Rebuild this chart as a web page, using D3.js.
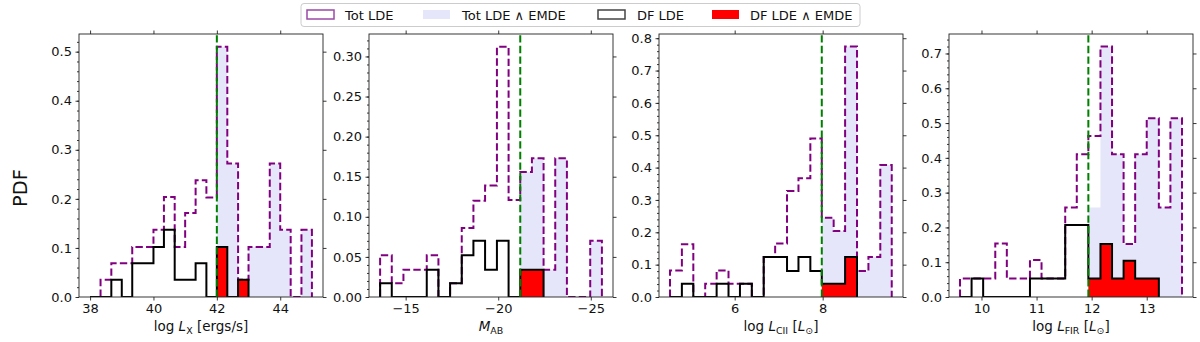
<!DOCTYPE html>
<html>
<head>
<meta charset="utf-8">
<script src="https://cdn.jsdelivr.net/npm/d3@7"></script>
<style>
  body { margin: 0; background: #fff; }
  svg { display: block; font-family: "DejaVu Sans", sans-serif; }
</style>
</head>
<body>
<svg id="chart" width="1200" height="342"></svg>
<script>
// bin edges and PDF heights

// log L_X
const lxEdges = [38.00, 38.33, 38.67, 39.00, 39.33, 39.67, 40.00, 40.33, 40.67, 41.00, 41.33,
  41.67, 42.00, 42.33, 42.67, 43.00, 43.33, 43.67, 44.00, 44.33, 44.67, 45.00];
const lxTot = [0, 0.035, 0.069, 0.069, 0.102, 0.102, 0.137, 0.204, 0.102, 0.171, 0.238,
  0.203, 0.510, 0.272, 0.035, 0.102, 0.102, 0.272, 0.137, 0, 0.137];
const lxTotEmde = [0, 0, 0, 0, 0, 0, 0, 0, 0, 0, 0,
  0, 0.510, 0.272, 0.035, 0.102, 0.102, 0.272, 0.137, 0, 0.137];
const lxDf = [0, 0, 0.035, 0, 0.069, 0.069, 0.102, 0.137, 0.035, 0.035, 0.069, 0, 0.102, 0, 0.035];
const lxDfEmde = [0, 0, 0, 0, 0, 0, 0, 0, 0, 0, 0, 0, 0.102, 0, 0.035];
const lxCut = 42.0;
const lxXTicks = [38, 40, 42, 44];
const lxYTicks = [0, 0.1, 0.2, 0.3, 0.4, 0.5];

// M_AB
const mabEdges = [-13.62, -14.25, -14.88, -15.51, -16.14, -16.77, -17.40, -18.03, -18.66, -19.29,
  -19.93, -20.56, -21.19, -21.82, -22.45, -23.08, -23.71, -24.34, -24.97, -25.60];
const mabTot = [0.052, 0.017, 0.034, 0.034, 0.052, 0, 0.017, 0.086, 0.120, 0.139,
  0.312, 0.121, 0.156, 0.173, 0.034, 0.173, 0, 0, 0.070];
const mabTotEmde = [0, 0, 0, 0, 0, 0, 0, 0, 0, 0,
  0, 0, 0.156, 0.173, 0.034, 0.173, 0, 0, 0.070];
const mabDf = [0.017, 0, 0, 0, 0.034, 0, 0.017, 0.052, 0.070, 0.034, 0.070, 0, 0.034, 0.034];
const mabDfEmde = [0, 0, 0, 0, 0, 0, 0, 0, 0, 0, 0, 0, 0.034, 0.034];
const mabCut = -21.19;
const mabXTicks = [-15, -20, -25];
const mabYTicks = [0, 0.05, 0.10, 0.15, 0.20, 0.25, 0.30];

// log L_CII
const ciiEdges = [4.53, 4.80, 5.06, 5.33, 5.59, 5.86, 6.12, 6.39, 6.66, 6.92,
  7.19, 7.45, 7.72, 7.98, 8.25, 8.51, 8.78, 9.04, 9.31, 9.57];
const ciiTot = [0.082, 0.163, 0, 0.041, 0.082, 0.041, 0.041, 0, 0.124, 0.165,
  0.328, 0.367, 0.490, 0.245, 0.204, 0.774, 0.080, 0.124, 0.408];
const ciiTotEmde = [0, 0, 0, 0, 0, 0, 0, 0, 0, 0,
  0, 0, 0, 0.245, 0.204, 0.774, 0.080, 0.124, 0.408];
const ciiDf = [0, 0.041, 0, 0, 0.041, 0, 0.041, 0, 0.124, 0.124, 0.080, 0.124, 0.080, 0.041, 0.041, 0.124];
const ciiDfEmde = [0, 0, 0, 0, 0, 0, 0, 0, 0, 0, 0, 0, 0, 0.041, 0.041, 0.124];
const ciiCut = 7.98;
const ciiXTicks = [6, 8];
const ciiYTicks = [0, 0.1, 0.2, 0.3, 0.4, 0.5, 0.6, 0.7, 0.8];

// log L_FIR
const firEdges = [9.61, 9.82, 10.03, 10.25, 10.46, 10.67, 10.88, 11.09, 11.31, 11.52,
  11.73, 11.94, 12.16, 12.37, 12.58, 12.79, 13.00, 13.22, 13.43, 13.64];
const firTot = [0.053, 0.053, 0.053, 0.154, 0.053, 0.053, 0.106, 0.053, 0.053, 0.257,
  0.410, 0.463, 0.720, 0.410, 0.152, 0.410, 0.514, 0.257, 0.514];
const firTotEmde = [0, 0, 0, 0, 0, 0, 0, 0, 0, 0,
  0, 0.257, 0.720, 0.410, 0.152, 0.410, 0.514, 0.257, 0.514];
const firDf = [0, 0.053, 0, 0, 0, 0, 0.053, 0.053, 0.053, 0.207, 0.207, 0.053, 0.152, 0.053, 0.104, 0.053, 0.053];
const firDfEmde = [0, 0, 0, 0, 0, 0, 0, 0, 0, 0, 0, 0.053, 0.152, 0.053, 0.104, 0.053, 0.053];
const firCut = 11.94;
const firXTicks = [10, 11, 12, 13];
const firYTicks = [0, 0.1, 0.2, 0.3, 0.4, 0.5, 0.6, 0.7];

const legendLabels = ['Tot LDE', 'Tot LDE \u2227 EMDE', 'DF LDE', 'DF LDE \u2227 EMDE'];

// label pieces: [text, kind] with kind '' | 'i' (italic) | 's' (subscript)
const panels = [
  { edges: lxEdges, tot: lxTot, totEmde: lxTotEmde, df: lxDf, dfEmde: lxDfEmde, cut: lxCut,
    xDomain: [37.65, 45.35], yMax: 0.536, xTicks: lxXTicks, yTicks: lxYTicks, minor: 0.02, fmt: '.1f',
    label: [['log ', ''], ['L', 'i'], ['X', 's'], [' [ergs/s]', '']] },
  { edges: mabEdges, tot: mabTot, totEmde: mabTotEmde, df: mabDf, dfEmde: mabDfEmde, cut: mabCut,
    xDomain: [-13.02, -26.2], yMax: 0.328, xTicks: mabXTicks, yTicks: mabYTicks, minor: 0.01, fmt: '.2f',
    label: [['M', 'i'], ['AB', 's']] },
  { edges: ciiEdges, tot: ciiTot, totEmde: ciiTotEmde, df: ciiDf, dfEmde: ciiDfEmde, cut: ciiCut,
    xDomain: [4.28, 9.826], yMax: 0.813, xTicks: ciiXTicks, yTicks: ciiYTicks, minor: 0.02, fmt: '.1f',
    label: [['log ', ''], ['L', 'i'], ['CII', 's'], [' [', ''], ['L', 'i'], ['\u2299', 's'], [']', '']] },
  { edges: firEdges, tot: firTot, totEmde: firTotEmde, df: firDf, dfEmde: firDfEmde, cut: firCut,
    xDomain: [9.41, 13.84], yMax: 0.756, xTicks: firXTicks, yTicks: firYTicks, minor: 0.02, fmt: '.1f',
    label: [['log ', ''], ['L', 'i'], ['FIR', 's'], [' [', ''], ['L', 'i'], ['\u2299', 's'], [']', '']] }
];

const svg = d3.select('#chart');
const panelLefts = [79, 369, 659, 949];
const pw = 244, plotTop = 34, plotBottom = 297;
const fontSize = 13;

// outline of a histogram as polyline points (edge, value)
const stepPoints = (edges, vals) => {
  const pts = [[edges[0], 0]];
  vals.forEach((v, i) => {
    pts.push([edges[i], v]);
    pts.push([edges[i + 1], v]);
  });
  pts.push([edges[vals.length], 0]);
  return pts;
};

panels.forEach((p, k) => {
  const left = panelLefts[k];
  const x = d3.scaleLinear().domain(p.xDomain).range([left, left + pw]);
  const y = d3.scaleLinear().domain([0, p.yMax]).range([plotBottom, plotTop]);
  const line = d3.line().x(d => x(d[0])).y(d => y(d[1]));
  const area = d3.area().x(d => x(d[0])).y0(y(0)).y1(d => y(d[1]));

  const clipId = 'clip' + k;
  svg.append('clipPath').attr('id', clipId)
    .append('rect').attr('x', left).attr('y', plotTop).attr('width', pw).attr('height', plotBottom - plotTop);

  const g = svg.append('g').attr('clip-path', `url(#${clipId})`);

  g.append('path').attr('d', area(stepPoints(p.edges, p.totEmde)))
    .attr('fill', '#e6e6fa');
  g.append('path').attr('d', line(stepPoints(p.edges, p.tot)))
    .attr('fill', 'none').attr('stroke', 'purple').attr('stroke-width', 2)
    .attr('stroke-dasharray', '7.4,3.2');
  g.append('path').attr('d', area(stepPoints(p.edges, p.dfEmde)))
    .attr('fill', 'red');
  g.append('path').attr('d', line(stepPoints(p.edges, p.df)))
    .attr('fill', 'none').attr('stroke', 'black').attr('stroke-width', 2)
    .attr('stroke-linejoin', 'miter');
  g.append('line')
    .attr('x1', x(p.cut)).attr('x2', x(p.cut)).attr('y1', y(0)).attr('y2', plotTop)
    .attr('stroke', 'green').attr('stroke-width', 2).attr('stroke-dasharray', '7.4,3.2');

  // axes
  const styleAxis = sel => {
    sel.select('.domain').remove();
    sel.selectAll('line').attr('stroke', '#222').attr('stroke-width', 0.9);
    sel.selectAll('text').attr('font-size', fontSize).attr('fill', '#111')
      .attr('font-family', '"DejaVu Sans", sans-serif');
  };
  svg.append('g').attr('transform', `translate(0,${plotBottom})`)
    .call(d3.axisBottom(x).tickValues(p.xTicks).tickFormat(d3.format('d')).tickSize(3.5).tickPadding(3.5))
    .call(styleAxis);
  svg.append('g').attr('transform', `translate(0,${plotTop})`)
    .call(d3.axisTop(x).tickValues(p.xTicks).tickFormat('').tickSize(3.5))
    .call(styleAxis);
  svg.append('g').attr('transform', `translate(${left},0)`)
    .call(d3.axisLeft(y).tickValues(p.yTicks).tickFormat(d3.format(p.fmt)).tickSize(3.5).tickPadding(3.5))
    .call(styleAxis);
  svg.append('g').attr('transform', `translate(${left},0)`)
    .call(d3.axisLeft(y).tickValues(d3.range(0, p.yMax, p.minor)).tickFormat('').tickSize(2))
    .call(styleAxis);
  svg.append('g').attr('transform', `translate(${left + pw},0)`)
    .call(d3.axisRight(y).tickValues(p.yTicks).tickFormat('').tickSize(3.5))
    .call(styleAxis);

  svg.append('rect')
    .attr('x', left).attr('y', plotTop).attr('width', pw).attr('height', plotBottom - plotTop)
    .attr('fill', 'none').attr('stroke', '#222').attr('stroke-width', 0.9);

  // x label
  const t = svg.append('text')
    .attr('x', left + pw / 2).attr('y', 331)
    .attr('text-anchor', 'middle').attr('font-size', fontSize + 0.5).attr('fill', '#111');
  let shifted = false;
  p.label.forEach(([txt, kind]) => {
    const s = t.append('tspan').text(txt);
    if (kind === 'i') s.attr('font-style', 'italic');
    if (kind === 's') {
      s.attr('font-size', (fontSize + 0.5) * 0.7).attr('dy', shifted ? 0 : 3);
      shifted = true;
    } else if (shifted) {
      s.attr('dy', -3);
      shifted = false;
    }
  });
});

// y label
svg.append('text')
  .attr('transform', 'translate(27,188) rotate(-90)')
  .attr('text-anchor', 'middle').attr('font-size', 19.5).attr('fill', '#111')
  .text('PDF');

// legend
const lg = svg.append('g');
lg.append('rect')
  .attr('x', 301).attr('y', 3.5).attr('width', 559).attr('height', 23).attr('rx', 3)
  .attr('fill', 'white').attr('stroke', '#ccc').attr('stroke-width', 1);
const patchX = [307, 423, 598, 712];
const textX = [345, 462, 637, 750];
legendLabels.forEach((lab, i) => {
  const r = lg.append('rect')
    .attr('x', patchX[i]).attr('y', 10).attr('width', 27).attr('height', 9);
  if (i === 0) r.attr('fill', 'none').attr('stroke', '#9b4aa6').attr('stroke-width', 1.5);
  if (i === 1) r.attr('fill', '#e6e6fa');
  if (i === 2) r.attr('fill', 'none').attr('stroke', '#444').attr('stroke-width', 1.5);
  if (i === 3) r.attr('fill', 'red');
  lg.append('text')
    .attr('x', textX[i]).attr('y', 19.5)
    .attr('font-size', fontSize).attr('fill', '#111')
    .text(lab);
});
</script>
</body>
</html>
